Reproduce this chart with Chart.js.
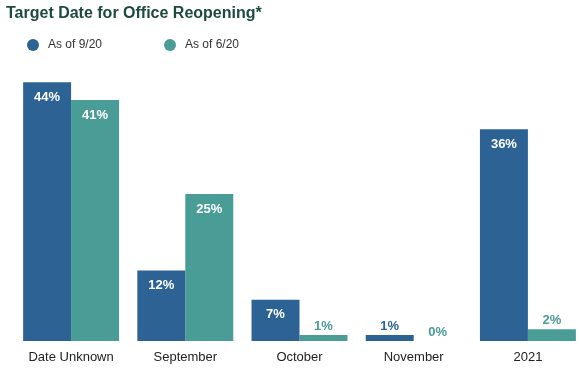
<!DOCTYPE html>
<html>
<head>
<meta charset="utf-8">
<script src="https://cdn.jsdelivr.net/npm/chart.js@4/dist/chart.umd.min.js"></script>
<style>
html,body{margin:0;padding:0;background:#fff;overflow:hidden;}
#wrap{position:relative;width:592px;height:368px;}
</style>
</head>
<body>
<div id="wrap"><canvas id="c"></canvas></div>
<script>
const titleText = 'Target Date for Office Reopening*';
const categories = ['Date Unknown', 'September', 'October', 'November', '2021'];
const seriesNames = ['As of 9/20', 'As of 6/20'];
const asOf920 = [44, 12, 7, 1, 36];
const asOf620 = [41, 25, 1, 0, 2];
const colors = ['#2c6394', '#4a9c97'];

const FONT = '"Liberation Sans", Arial, Helvetica, sans-serif';

const legendPlugin = {
  id: 'customLegend',
  afterDraw(chart) {
    const ctx = chart.ctx;
    const xs = [33, 170];
    const y = 45;
    ctx.save();
    chart.data.datasets.forEach((ds, i) => {
      ctx.beginPath();
      ctx.fillStyle = ds.backgroundColor;
      ctx.arc(xs[i], y, 6, 0, Math.PI * 2);
      ctx.fill();
      ctx.fillStyle = '#333';
      ctx.font = '12px ' + FONT;
      ctx.textBaseline = 'middle';
      ctx.textAlign = 'left';
      ctx.fillText(ds.label, xs[i] + 15, y);
    });
    ctx.restore();
  }
};

const valueLabels = {
  id: 'valueLabels',
  afterDatasetsDraw(chart) {
    const ctx = chart.ctx;
    ctx.save();
    ctx.font = 'bold 13px ' + FONT;
    ctx.textAlign = 'center';
    ctx.textBaseline = 'middle';
    chart.data.datasets.forEach((ds, di) => {
      const meta = chart.getDatasetMeta(di);
      meta.data.forEach((bar, i) => {
        const v = ds.data[i];
        const txt = v + '%';
        if (v >= 5) {
          ctx.fillStyle = '#ffffff';
          ctx.fillText(txt, bar.x, bar.y + 15);
        } else {
          ctx.fillStyle = ds.backgroundColor;
          ctx.fillText(txt, bar.x, bar.y - 9);
        }
      });
    });
    ctx.restore();
  }
};

new Chart(document.getElementById('c'), {
  type: 'bar',
  data: {
    labels: categories,
    datasets: [
      { label: seriesNames[0], data: asOf920, backgroundColor: colors[0] },
      { label: seriesNames[1], data: asOf620, backgroundColor: colors[1] }
    ]
  },
  options: {
    responsive: true,
    maintainAspectRatio: false,
    animation: false,
    layout: { padding: { left: 6, right: 7, top: 0, bottom: 0 } },
    datasets: { bar: { categoryPercentage: 0.84, barPercentage: 1.0 } },
    scales: {
      x: {
        grid: { display: false },
        border: { display: false },
        ticks: { color: '#222', font: { family: FONT, size: 13 }, padding: 1, maxRotation: 0 },
        afterFit(scale) { scale.height = 27; }
      },
      y: {
        min: 0, max: 48,
        display: true,
        grid: { display: false },
        border: { display: false },
        ticks: { display: false },
        afterFit(scale) { scale.width = 8; }
      }
    },
    plugins: {
      legend: { display: false },
      tooltip: { enabled: false },
      title: {
        display: true,
        text: titleText,
        align: 'start',
        color: '#1d4a3e',
        font: { family: FONT, size: 16, weight: 'bold' },
        padding: { top: 4, bottom: 35.6 }
      }
    }
  },
  plugins: [legendPlugin, valueLabels]
});
</script>
</body>
</html>
